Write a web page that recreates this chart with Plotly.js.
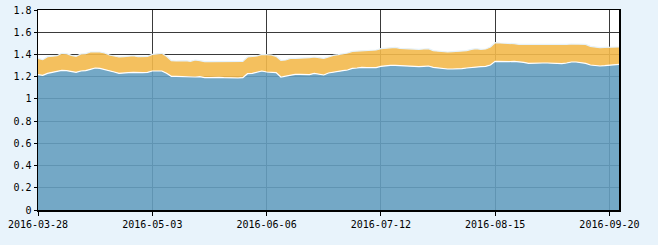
<!DOCTYPE html>
<html>
<head>
<meta charset="utf-8">
<script src="https://cdn.plot.ly/plotly-3.0.1.min.js"></script>
<style>
html,body{margin:0;padding:0;background:#e8f3fb;}
#chart{width:658px;height:245px;}
</style>
</head>
<body>
<div id="chart"></div>
<script>
const dates = [
"2016-03-28","2016-03-29","2016-03-30","2016-03-31",
"2016-04-01","2016-04-05","2016-04-06","2016-04-07","2016-04-08",
"2016-04-11","2016-04-12","2016-04-13","2016-04-14","2016-04-15",
"2016-04-18","2016-04-19","2016-04-20","2016-04-21","2016-04-22",
"2016-04-25","2016-04-26","2016-04-27","2016-04-28","2016-04-29",
"2016-05-03","2016-05-04","2016-05-05","2016-05-06",
"2016-05-09","2016-05-10","2016-05-11","2016-05-12","2016-05-13",
"2016-05-16","2016-05-17","2016-05-18","2016-05-19","2016-05-20",
"2016-05-23","2016-05-24","2016-05-25","2016-05-26","2016-05-27",
"2016-05-30","2016-05-31",
"2016-06-01","2016-06-02","2016-06-03",
"2016-06-06","2016-06-07","2016-06-08",
"2016-06-13","2016-06-14","2016-06-15","2016-06-16","2016-06-17",
"2016-06-20","2016-06-21","2016-06-22","2016-06-23","2016-06-24",
"2016-06-27","2016-06-28","2016-06-29","2016-06-30",
"2016-07-01",
"2016-07-04","2016-07-05","2016-07-06","2016-07-07","2016-07-08",
"2016-07-11","2016-07-12","2016-07-13","2016-07-14","2016-07-15",
"2016-07-18","2016-07-19","2016-07-20","2016-07-21","2016-07-22",
"2016-07-25","2016-07-26","2016-07-27","2016-07-28","2016-07-29",
"2016-08-01","2016-08-02","2016-08-03","2016-08-04","2016-08-05",
"2016-08-08","2016-08-09","2016-08-10","2016-08-11","2016-08-12",
"2016-08-15","2016-08-16","2016-08-17","2016-08-18","2016-08-19",
"2016-08-22","2016-08-23","2016-08-24","2016-08-25","2016-08-26",
"2016-08-29","2016-08-30","2016-08-31",
"2016-09-01","2016-09-02",
"2016-09-05","2016-09-06","2016-09-07","2016-09-08","2016-09-09",
"2016-09-12","2016-09-13","2016-09-14",
"2016-09-19","2016-09-20","2016-09-21","2016-09-22"
];

// lower (blue) series
const seriesBlue = [
1.218,1.212,1.230,1.239,1.245,1.257,1.254,1.245,1.239,1.251,
1.254,1.266,1.278,1.275,1.266,1.257,1.242,1.230,1.230,1.236,
1.239,1.236,1.236,1.239,1.251,1.251,1.251,1.230,1.203,1.203,
1.200,1.200,1.200,1.197,1.200,1.191,1.191,1.194,1.194,1.191,
1.188,1.188,1.188,1.191,1.227,1.230,1.239,1.251,1.242,1.242,
1.236,1.197,1.206,1.215,1.221,1.221,1.218,1.218,1.230,1.221,
1.215,1.233,1.242,1.248,1.254,1.260,1.275,1.278,1.284,1.281,
1.281,1.281,1.293,1.299,1.302,1.302,1.299,1.296,1.296,1.293,
1.290,1.293,1.296,1.284,1.278,1.272,1.269,1.269,1.269,1.272,
1.278,1.284,1.290,1.290,1.293,1.305,1.338,1.335,1.332,1.335,
1.338,1.335,1.329,1.320,1.323,1.323,1.323,1.323,1.320,1.320,
1.317,1.323,1.332,1.332,1.326,1.320,1.305,1.299,1.296,1.299,
1.302,1.305,1.311
];

// upper (orange) series, stacked on the blue one
const seriesOrange = [
0.147,0.141,0.150,0.147,0.144,0.153,0.153,0.147,0.144,0.153,
0.153,0.156,0.147,0.147,0.147,0.138,0.144,0.147,0.150,0.150,
0.150,0.144,0.144,0.144,0.150,0.156,0.159,0.153,0.141,0.138,
0.144,0.144,0.138,0.153,0.144,0.144,0.144,0.141,0.144,0.147,
0.147,0.147,0.147,0.147,0.150,0.150,0.147,0.150,0.159,0.153,
0.147,0.150,0.144,0.150,0.144,0.144,0.147,0.153,0.147,0.147,
0.150,0.144,0.150,0.150,0.150,0.153,0.153,0.153,0.150,0.153,
0.156,0.159,0.159,0.159,0.159,0.162,0.156,0.156,0.156,0.159,
0.156,0.156,0.156,0.150,0.150,0.153,0.153,0.156,0.159,0.159,
0.156,0.162,0.162,0.156,0.156,0.162,0.168,0.168,0.171,0.165,
0.159,0.156,0.162,0.168,0.165,0.162,0.165,0.168,0.168,0.165,
0.171,0.168,0.162,0.162,0.168,0.171,0.168,0.168,0.165,0.165,
0.165,0.162,0.156
];

const xTicks = ["2016-03-28","2016-05-03","2016-06-06","2016-07-12","2016-08-15","2016-09-20"];
const yTicks = [0,0.2,0.4,0.6,0.8,1,1.2,1.4,1.6,1.8];

const traces = [
  {
    x: dates, y: seriesBlue, type: 'scatter', mode: 'lines',
    stackgroup: 'one', fillcolor: 'rgba(101,158,192,0.9)',
    line: {color: '#ffffff', width: 1.2, shape: 'linear'},
    hoverinfo: 'skip', showlegend: false
  },
  {
    x: dates, y: seriesOrange, type: 'scatter', mode: 'lines',
    stackgroup: 'one', fillcolor: 'rgba(243,185,76,0.9)',
    line: {color: '#e6f2fa', width: 1.2, shape: 'linear'},
    hoverinfo: 'skip', showlegend: false
  }
];

const tickFont = {family: 'DejaVu Sans Mono, monospace', size: 10, color: '#000'};

const layout = {
  width: 658, height: 245,
  margin: {l: 38, r: 39, t: 10, b: 35, pad: 0},
  paper_bgcolor: '#e8f3fb',
  plot_bgcolor: '#ffffff',
  showlegend: false,
  xaxis: {
    type: 'category',
    range: [0, dates.length - 1],
    tickmode: 'array', tickvals: xTicks, ticktext: xTicks,
    showgrid: true, gridcolor: '#3a3a3a', gridwidth: 1,
    ticks: 'outside', ticklen: 4, tickcolor: '#000', tickwidth: 1,
    showline: true, linecolor: '#000', linewidth: 1.5, mirror: true,
    tickfont: tickFont, zeroline: false, fixedrange: true
  },
  yaxis: {
    range: [0, 1.8],
    tickmode: 'array', tickvals: yTicks, ticktext: yTicks.map(String),
    showgrid: true, gridcolor: '#3a3a3a', gridwidth: 1,
    ticks: 'outside', ticklen: 3, tickcolor: '#000', tickwidth: 1,
    showline: true, linecolor: '#000', linewidth: 1.5, mirror: true,
    tickfont: tickFont, zeroline: false, fixedrange: true
  }
};

Plotly.newPlot('chart', traces, layout, {displayModeBar: false, staticPlot: true});
</script>
</body>
</html>
